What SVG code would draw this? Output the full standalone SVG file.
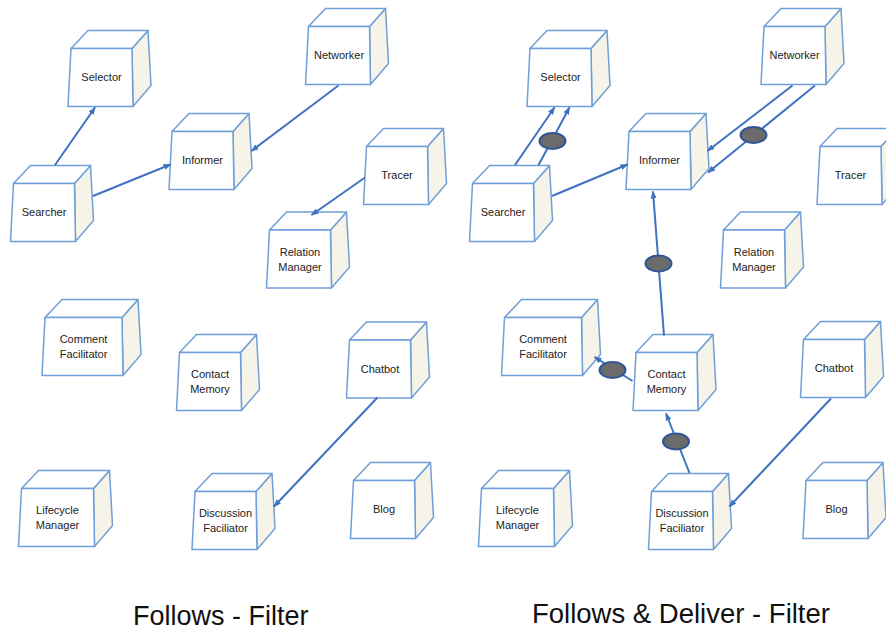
<svg xmlns="http://www.w3.org/2000/svg" xmlns:xlink="http://www.w3.org/1999/xlink" width="886" height="631" viewBox="0 0 886 631">
<style>
.front{fill:#ffffff;stroke:#6f9fd8;stroke-width:1.5;stroke-linejoin:round}
.top{fill:#ffffff;stroke:#6f9fd8;stroke-width:1.5;stroke-linejoin:round}
.side{fill:#f6f4e8;stroke:#6f9fd8;stroke-width:1.5;stroke-linejoin:round}
.lbl{font-family:"Liberation Sans",Arial,sans-serif;font-size:11px;fill:#222222;text-anchor:middle}
.cap{font-family:"Liberation Sans",Arial,sans-serif;font-size:27px;fill:#111111}
.conn{stroke:#3f72c0;stroke-width:2;fill:none}
.arr{marker-end:url(#ah)}
.flt{fill:#6b6b6b;stroke:#2f5597;stroke-width:2}
</style>
<defs>
<marker id="ah" markerWidth="8" markerHeight="6" refX="7" refY="3" orient="auto" markerUnits="userSpaceOnUse">
<path d="M0,0 L8,3 L0,6 z" fill="#3f72c0"/>
</marker>
<g id="c61">
<polygon class="side" points="61,0 77,-18 80,37 62,58"/>
<polygon class="top" points="0,0 17,-18 77,-18 61,0"/>
<polygon class="front" points="0,0 61,0 62,58 -3,58"/>
</g>
<g id="c72">
<polygon class="side" points="72,0 88,-18 91,37 73,58"/>
<polygon class="top" points="0,0 17,-18 88,-18 72,0"/>
<polygon class="front" points="0,0 72,0 73,58 -3,58"/>
</g>
<g id="c77">
<polygon class="side" points="77,0 93,-18 96,37 78,58"/>
<polygon class="top" points="0,0 17,-18 93,-18 77,0"/>
<polygon class="front" points="0,0 77,0 78,58 -3,58"/>
</g>
</defs>
<rect x="0" y="0" width="886" height="631" fill="#ffffff"/>

<!-- LEFT DIAGRAM -->
<g id="selector-l" transform="translate(71,48.5)"><use href="#c61"/><text class="lbl" x="30.5" y="32.5">Selector</text></g>
<g id="searcher-l" transform="translate(13.5,183.5)"><use href="#c61"/><text class="lbl" x="30.5" y="32.5">Searcher</text></g>
<g id="informer-l" transform="translate(172,131.5)"><use href="#c61"/><text class="lbl" x="30.5" y="32.5">Informer</text></g>
<g id="networker-l" transform="translate(308.5,26.5)"><use href="#c61"/><text class="lbl" x="30.5" y="32.5">Networker</text></g>
<g id="tracer-l" transform="translate(366.5,146.5)"><use href="#c61"/><text class="lbl" x="30.5" y="32.5">Tracer</text></g>
<g id="relation-l" transform="translate(269.5,230)"><use href="#c61"/><text class="lbl" x="30.5" y="25.5">Relation</text><text class="lbl" x="30.5" y="40.5">Manager</text></g>
<g id="comment-l" transform="translate(45,317.5)"><use href="#c77"/><text class="lbl" x="38.5" y="25.5">Comment</text><text class="lbl" x="38.5" y="40.5">Facilitator</text></g>
<g id="contact-l" transform="translate(179.5,352.5)"><use href="#c61"/><text class="lbl" x="30.5" y="25.5">Contact</text><text class="lbl" x="30.5" y="40.5">Memory</text></g>
<g id="chatbot-l" transform="translate(349.5,340)"><use href="#c61"/><text class="lbl" x="30.5" y="32.5">Chatbot</text></g>
<g id="lifecycle-l" transform="translate(21.5,488.5)"><use href="#c72"/><text class="lbl" x="36" y="25.5">Lifecycle</text><text class="lbl" x="36" y="40.5">Manager</text></g>
<g id="discussion-l" transform="translate(195,491.5)"><use href="#c61"/><text class="lbl" x="30.5" y="25.5">Discussion</text><text class="lbl" x="30.5" y="40.5">Faciliator</text></g>
<g id="blog-l" transform="translate(353.5,480.5)"><use href="#c61"/><text class="lbl" x="30.5" y="32.5">Blog</text></g>

<!-- RIGHT DIAGRAM -->
<g id="selector-r" transform="translate(530,48.5)"><use href="#c61"/><text class="lbl" x="30.5" y="32.5">Selector</text></g>
<g id="searcher-r" transform="translate(472.5,183.5)"><use href="#c61"/><text class="lbl" x="30.5" y="32.5">Searcher</text></g>
<g id="informer-r" transform="translate(629,131.5)"><use href="#c61"/><text class="lbl" x="30.5" y="32.5">Informer</text></g>
<g id="networker-r" transform="translate(764,26.5)"><use href="#c61"/><text class="lbl" x="30.5" y="32.5">Networker</text></g>
<g id="tracer-r" transform="translate(820,146.5)"><use href="#c61"/><text class="lbl" x="30.5" y="32.5">Tracer</text></g>
<g id="relation-r" transform="translate(723.5,230)"><use href="#c61"/><text class="lbl" x="30.5" y="25.5">Relation</text><text class="lbl" x="30.5" y="40.5">Manager</text></g>
<g id="comment-r" transform="translate(504.5,317.5)"><use href="#c77"/><text class="lbl" x="38.5" y="25.5">Comment</text><text class="lbl" x="38.5" y="40.5">Facilitator</text></g>
<g id="contact-r" transform="translate(636,352.5)"><use href="#c61"/><text class="lbl" x="30.5" y="25.5">Contact</text><text class="lbl" x="30.5" y="40.5">Memory</text></g>
<g id="chatbot-r" transform="translate(803.5,339.5)"><use href="#c61"/><text class="lbl" x="30.5" y="32.5">Chatbot</text></g>
<g id="lifecycle-r" transform="translate(481.5,488.5)"><use href="#c72"/><text class="lbl" x="36" y="25.5">Lifecycle</text><text class="lbl" x="36" y="40.5">Manager</text></g>
<g id="discussion-r" transform="translate(651.5,491.5)"><use href="#c61"/><text class="lbl" x="30.5" y="25.5">Discussion</text><text class="lbl" x="30.5" y="40.5">Faciliator</text></g>
<g id="blog-r" transform="translate(806,480.5)"><use href="#c61"/><text class="lbl" x="30.5" y="32.5">Blog</text></g>

<g id="connectors">
<!-- left -->
<line class="conn arr" x1="55" y1="165" x2="95" y2="107.5"/>
<line class="conn arr" x1="93" y1="196" x2="170.5" y2="164.5"/>
<line class="conn arr" x1="338.5" y1="85.5" x2="251.5" y2="151"/>
<line class="conn arr" x1="365" y1="177.5" x2="311.5" y2="215"/>
<line class="conn arr" x1="377.5" y1="397.5" x2="274" y2="506.5"/>
<!-- right -->
<line class="conn arr" x1="515" y1="165" x2="554.5" y2="107.5"/>
<line class="conn arr" x1="538.5" y1="165" x2="569.5" y2="107.5"/>
<line class="conn arr" x1="552" y1="196" x2="627.5" y2="164.5"/>
<line class="conn arr" x1="792.5" y1="85.5" x2="707.5" y2="151"/>
<line class="conn arr" x1="815" y1="85.5" x2="708" y2="172.5"/>
<line class="conn arr" x1="664" y1="335.5" x2="653" y2="191.5"/>
<line class="conn arr" x1="632.5" y1="381" x2="594.5" y2="357"/>
<line class="conn arr" x1="689.5" y1="473" x2="666" y2="413.5"/>
<line class="conn arr" x1="831" y1="398.5" x2="729.5" y2="506.5"/>
<!-- filters -->
<ellipse class="flt" cx="552.5" cy="141" rx="13" ry="8"/>
<ellipse class="flt" cx="753.5" cy="135" rx="13" ry="8"/>
<ellipse class="flt" cx="658.5" cy="263.5" rx="13" ry="8"/>
<ellipse class="flt" cx="612.5" cy="370" rx="13" ry="8"/>
<ellipse class="flt" cx="676" cy="441.5" rx="13" ry="8"/>
</g>

<text class="cap" x="133" y="625">Follows - Filter</text>
<text class="cap" x="532" y="623" style="font-size:27.5px">Follows &amp; Deliver - Filter</text>
</svg>
